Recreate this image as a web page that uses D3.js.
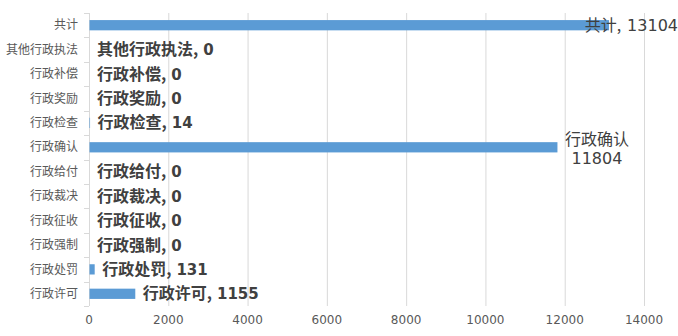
<!DOCTYPE html>
<html>
<head>
<meta charset="utf-8">
<script src="https://cdn.jsdelivr.net/npm/d3@7"></script>
<style>
  body { margin: 0; background: #fff; }
  svg { display: block; }
</style>
</head>
<body>
<div id="chart-area"></div>
<script>
// categories top to bottom
var categories = ["共计", "其他行政执法", "行政补偿", "行政奖励", "行政检查", "行政确认",
                  "行政给付", "行政裁决", "行政征收", "行政强制", "行政处罚", "行政许可"];
var values = [13104, 0, 0, 0, 14, 11804, 0, 0, 0, 0, 131, 1155];
var tickValues = [0, 2000, 4000, 6000, 8000, 10000, 12000, 14000];
var plainLabels = ["共计", "行政确认"];   // these labels are not bold
var wrappedLabels = ["行政确认"];         // label split on two lines

var W = 678, H = 336;
var margin = { left: 89, right: 34, top: 13, bottom: 30 };
var width = W - margin.left - margin.right,
    height = H - margin.top - margin.bottom;

var svg = d3.select("#chart-area").append("svg")
    .attr("width", W)
    .attr("height", H);

var g = svg.append("g")
    .attr("transform", "translate(" + margin.left + "," + margin.top + ")");

var x = d3.scaleLinear().domain([0, 14000]).range([0, 555]);
var y = d3.scaleBand().domain(categories).range([0, height]).paddingInner(0.58).paddingOuter(0.29);

var font = "'DejaVu Sans', 'Noto Sans CJK SC', sans-serif";
var cjk = "'Noto Sans CJK SC', sans-serif";

// grid
g.selectAll(".grid").data(tickValues.slice(1)).enter().append("line")
    .attr("x1", function(d){ return x(d) + 0.5; })
    .attr("x2", function(d){ return x(d) + 0.5; })
    .attr("y1", 0).attr("y2", height)
    .attr("stroke", "#d9d9d9");

// x tick labels
g.selectAll(".xt").data(tickValues).enter().append("text")
    .attr("x", function(d){ return x(d); })
    .attr("y", height + 18)
    .attr("text-anchor", "middle")
    .attr("font-family", font)
    .attr("font-size", "12px")
    .attr("fill", "#595959")
    .text(function(d){ return d; });

// left axis line + category ticks
g.append("line").attr("x1", 0.5).attr("x2", 0.5).attr("y1", 0).attr("y2", height)
    .attr("stroke", "#d9d9d9");
var step = height / categories.length;
g.selectAll(".ct").data(d3.range(categories.length + 1)).enter().append("line")
    .attr("x1", -5).attr("x2", 0)
    .attr("y1", function(i){ return Math.round(i * step) + 0.5; })
    .attr("y2", function(i){ return Math.round(i * step) + 0.5; })
    .attr("stroke", "#d9d9d9");

g.selectAll(".cl").data(categories).enter().append("text")
    .attr("x", -11)
    .attr("y", function(d){ return y(d) + y.bandwidth() / 2; })
    .attr("dy", "0.35em")
    .attr("text-anchor", "end")
    .attr("font-family", cjk)
    .attr("font-size", "12px")
    .attr("fill", "#595959")
    .text(function(d){ return d; });

// bars
g.selectAll(".bar").data(categories).enter().append("rect")
    .attr("x", 0.5)
    .attr("y", function(d){ return y(d); })
    .attr("width", function(d, i){ return x(values[i]); })
    .attr("height", y.bandwidth())
    .attr("fill", "#5b9bd5");

// data labels
var rightLimit = W - margin.left - 6;
categories.forEach(function(c, i){
    var v = values[i];
    var cy = y(c) + y.bandwidth() / 2;
    var plain = plainLabels.indexOf(c) >= 0;
    var x0 = x(v) + 8;
    if (wrappedLabels.indexOf(c) >= 0) {
        // two separate lines so they don't share one text box
        var l1 = g.append("text")
            .attr("text-anchor", "middle")
            .attr("font-family", cjk)
            .attr("font-size", "16px")
            .attr("fill", "#404040")
            .attr("y", cy - 2)
            .text(c);
        var l2 = g.append("text")
            .attr("text-anchor", "middle")
            .attr("font-family", font)
            .attr("font-size", "16px")
            .attr("fill", "#404040")
            .attr("y", cy + 17)
            .text(v);
        var w = Math.max(l1.node().getComputedTextLength(), l2.node().getComputedTextLength());
        l1.attr("x", x0 + w / 2);
        l2.attr("x", x0 + w / 2);
    } else {
        var t = g.append("text")
            .attr("font-size", "16px")
            .attr("font-weight", plain ? "normal" : "bold")
            .attr("fill", "#404040")
            .attr("x", x0).attr("y", cy).attr("dy", "0.35em");
        t.append("tspan").attr("font-family", cjk).text(c + ",");
        t.append("tspan").attr("font-family", font)
            .attr("font-size", plain ? "16px" : "15px")
            .attr("dx", plain ? 6 : 5)
            .text(v);
        var w2 = t.node().getComputedTextLength();
        if (x0 + w2 > rightLimit) t.attr("x", rightLimit - w2);
    }
});
</script>
</body>
</html>
